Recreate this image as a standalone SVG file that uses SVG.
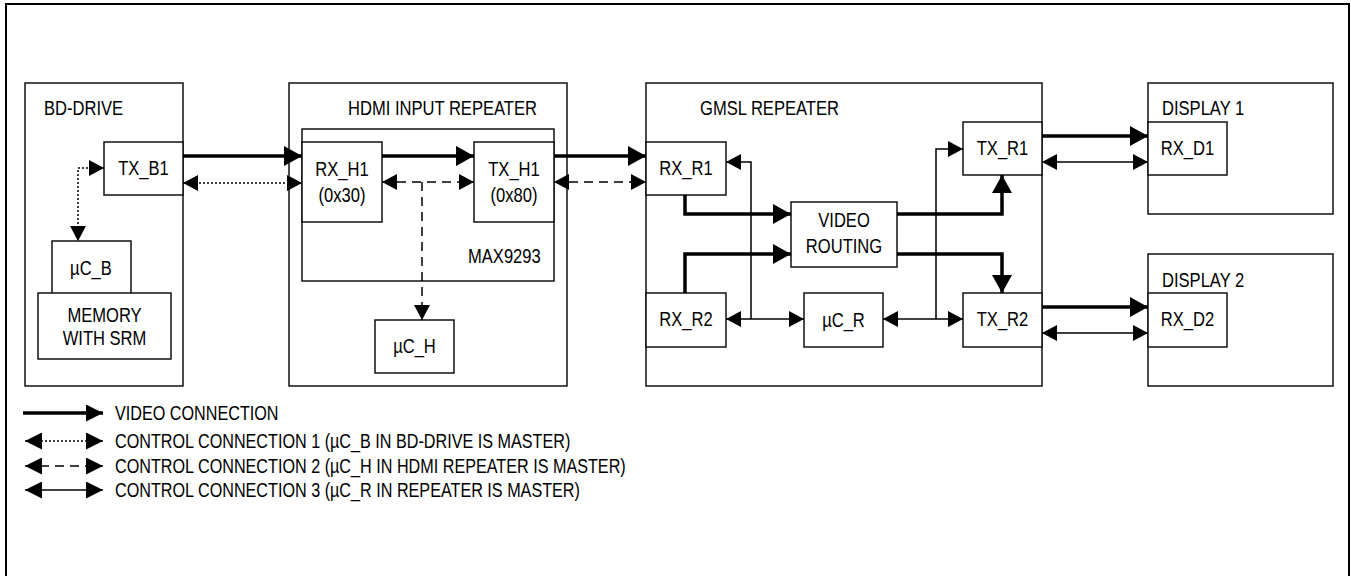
<svg xmlns="http://www.w3.org/2000/svg" width="1351" height="576" viewBox="0 0 1351 576">
<style>
.box{fill:#fff;stroke:#111;stroke-width:1.5}
.t{font-family:"Liberation Sans",Arial,sans-serif;font-size:19.5px;fill:#000}
.c{text-anchor:middle}
.vid{fill:none;stroke:#000;stroke-width:3.5}
.c1{fill:none;stroke:#000;stroke-width:1.5;stroke-dasharray:2,2}
.c2{fill:none;stroke:#000;stroke-width:1.5;stroke-dasharray:9,6}
.c3{fill:none;stroke:#000;stroke-width:1.5}
</style>
<defs>
<marker id="av" markerUnits="userSpaceOnUse" markerWidth="18" markerHeight="20" refX="18" refY="10" orient="auto-start-reverse"><path d="M0,0 L18,10 L0,20 z" fill="#000"/></marker>
<marker id="ac" markerUnits="userSpaceOnUse" markerWidth="15" markerHeight="16" refX="15" refY="8" orient="auto-start-reverse"><path d="M0,0 L15,8 L0,16 z" fill="#000"/></marker>
<marker id="al" markerUnits="userSpaceOnUse" markerWidth="17" markerHeight="17" refX="17" refY="8.5" orient="auto-start-reverse"><path d="M0,0 L17,8.5 L0,17 z" fill="#000"/></marker>
</defs>
<rect width="1351" height="576" fill="#fff"/>
<path d="M6,576 V4 H1349 V576" fill="none" stroke="#000" stroke-width="2"/>

<g id="bd-drive">
<rect class="box" x="25" y="83" width="158" height="303"/>
<text class="t" transform="translate(44,115) scale(0.85,1)">BD-DRIVE</text>
</g>
<g id="tx-b1">
<rect class="box" x="104" y="142" width="79" height="53"/>
<text class="t c" transform="translate(143.5,175) scale(0.85,1)">TX_B1</text>
</g>
<g id="uc-b">
<rect class="box" x="52" y="241" width="79" height="53"/>
<text class="t c" transform="translate(91,275) scale(0.85,1)">µC_B</text>
</g>
<g id="memory">
<rect class="box" x="38" y="293" width="133" height="66"/>
<text class="t c" transform="translate(104.5,322) scale(0.85,1)">MEMORY</text>
<text class="t c" transform="translate(104.5,345) scale(0.85,1)">WITH SRM</text>
</g>

<g id="hdmi-repeater">
<rect class="box" x="289" y="83" width="278" height="303"/>
<text class="t" transform="translate(348,115) scale(0.85,1)">HDMI INPUT REPEATER</text>
</g>
<g id="max9293">
<rect class="box" x="302" y="129" width="252" height="152"/>
<text class="t" transform="translate(468,263) scale(0.85,1)">MAX9293</text>
</g>
<g id="rx-h1">
<rect class="box" x="302" y="142" width="80" height="80"/>
<text class="t c" transform="translate(342,176) scale(0.85,1)">RX_H1</text>
<text class="t c" transform="translate(342,202) scale(0.85,1)">(0x30)</text>
</g>
<g id="tx-h1">
<rect class="box" x="474" y="142" width="80" height="80"/>
<text class="t c" transform="translate(514,176) scale(0.85,1)">TX_H1</text>
<text class="t c" transform="translate(514,202) scale(0.85,1)">(0x80)</text>
</g>
<g id="uc-h">
<rect class="box" x="375" y="320" width="79" height="53"/>
<text class="t c" transform="translate(414.5,353) scale(0.85,1)">µC_H</text>
</g>

<g id="gmsl-repeater">
<rect class="box" x="646" y="83" width="396" height="303"/>
<text class="t" transform="translate(700,115) scale(0.85,1)">GMSL REPEATER</text>
</g>
<g id="rx-r1">
<rect class="box" x="646" y="142" width="80" height="53"/>
<text class="t c" transform="translate(686,175) scale(0.85,1)">RX_R1</text>
</g>
<g id="rx-r2">
<rect class="box" x="646" y="293" width="80" height="54"/>
<text class="t c" transform="translate(686,326) scale(0.85,1)">RX_R2</text>
</g>
<g id="video-routing">
<rect class="box" x="791" y="202" width="106" height="65"/>
<text class="t c" transform="translate(844,227) scale(0.85,1)">VIDEO</text>
<text class="t c" transform="translate(844,253) scale(0.85,1)">ROUTING</text>
</g>
<g id="uc-r">
<rect class="box" x="804" y="293" width="79" height="54"/>
<text class="t c" transform="translate(843.5,327) scale(0.85,1)">µC_R</text>
</g>
<g id="tx-r1">
<rect class="box" x="963" y="122" width="79" height="53"/>
<text class="t c" transform="translate(1002.5,155) scale(0.85,1)">TX_R1</text>
</g>
<g id="tx-r2">
<rect class="box" x="963" y="293" width="79" height="54"/>
<text class="t c" transform="translate(1002.5,326) scale(0.85,1)">TX_R2</text>
</g>

<g id="display-1">
<rect class="box" x="1148" y="83" width="185" height="131"/>
<text class="t" transform="translate(1162,115) scale(0.85,1)">DISPLAY 1</text>
</g>
<g id="rx-d1">
<rect class="box" x="1148" y="122" width="79" height="53"/>
<text class="t c" transform="translate(1187.5,155) scale(0.85,1)">RX_D1</text>
</g>
<g id="display-2">
<rect class="box" x="1148" y="254" width="185" height="132"/>
<text class="t" transform="translate(1162,287) scale(0.85,1)">DISPLAY 2</text>
</g>
<g id="rx-d2">
<rect class="box" x="1148" y="293" width="79" height="54"/>
<text class="t c" transform="translate(1187.5,326) scale(0.85,1)">RX_D2</text>
</g>

<g id="connectors">
<path class="vid" d="M183,156 H302" marker-end="url(#av)"/>
<path class="c1" d="M183,183 H302" marker-start="url(#ac)" marker-end="url(#ac)"/>
<path class="c1" d="M104,168 H78 V241" marker-start="url(#ac)" marker-end="url(#ac)"/>
<path class="vid" d="M382,156 H474" marker-end="url(#av)"/>
<path class="c2" d="M382,182 H474" marker-start="url(#ac)" marker-end="url(#ac)"/>
<path class="c2" d="M422,182 V320" marker-end="url(#ac)"/>
<path class="vid" d="M554,156 H646" marker-end="url(#av)"/>
<path class="c2" d="M554,182 H646" marker-start="url(#ac)" marker-end="url(#ac)"/>
<path class="vid" d="M685,195 V214 H791" marker-end="url(#av)"/>
<path class="vid" d="M685,293 V254 H791" marker-end="url(#av)"/>
<path class="vid" d="M897,214 H1002 V175" marker-end="url(#av)"/>
<path class="vid" d="M897,254 H1002 V293" marker-end="url(#av)"/>
<path class="c3" d="M726,162 H751 V319" marker-start="url(#ac)"/>
<path class="c3" d="M726,319 H804" marker-start="url(#ac)" marker-end="url(#ac)"/>
<path class="c3" d="M883,319 H963" marker-start="url(#ac)" marker-end="url(#ac)"/>
<path class="c3" d="M936,319 V149 H963" marker-end="url(#ac)"/>
<path class="vid" d="M1042,136 H1148" marker-end="url(#av)"/>
<path class="c3" d="M1042,162 H1148" marker-start="url(#ac)" marker-end="url(#ac)"/>
<path class="vid" d="M1042,307 H1148" marker-end="url(#av)"/>
<path class="c3" d="M1042,333 H1148" marker-start="url(#ac)" marker-end="url(#ac)"/>
</g>

<g id="legend">
<path class="vid" d="M23,413 H103" marker-end="url(#al)"/>
<path class="c1" d="M25,441 H103" marker-start="url(#al)" marker-end="url(#al)"/>
<path class="c2" d="M25,466 H103" marker-start="url(#al)" marker-end="url(#al)"/>
<path class="c3" d="M25,490 H103" marker-start="url(#al)" marker-end="url(#al)"/>
<text class="t" transform="translate(115,420) scale(0.83,1)">VIDEO CONNECTION</text>
<text class="t" transform="translate(115,448) scale(0.83,1)">CONTROL CONNECTION 1 (µC_B IN BD-DRIVE IS MASTER)</text>
<text class="t" transform="translate(115,473) scale(0.83,1)">CONTROL CONNECTION 2 (µC_H IN HDMI REPEATER IS MASTER)</text>
<text class="t" transform="translate(115,497) scale(0.83,1)">CONTROL CONNECTION 3 (µC_R IN REPEATER IS MASTER)</text>
</g>
</svg>
